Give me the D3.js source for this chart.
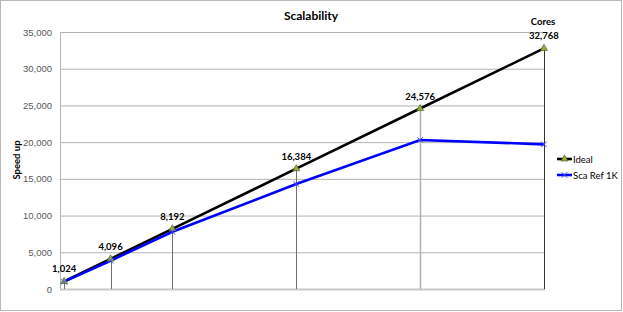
<!DOCTYPE html>
<html><head><meta charset="utf-8">
<script src="https://cdn.jsdelivr.net/npm/d3@7"></script>
<style>
html,body{margin:0;padding:0;background:#fff;}
svg{display:block;font-family:Lato,"Open Sans",sans-serif;}
</style></head>
<body><svg id="c" width="623" height="312"></svg>
<script>
const cores = [1024, 4096, 8192, 16384, 24576, 32768];
const ideal = [1024, 4096, 8192, 16384, 24576, 32768];
const scaRef = [1000, 3850, 7800, 14300, 20300, 19700];
const coreLabels = ["1,024", "4,096", "8,192", "16,384", "24,576", "32,768"];
const yTicks = [0, 5000, 10000, 15000, 20000, 25000, 30000, 35000];
const seriesNames = ["Ideal", "Sca Ref 1K"];

const svg = d3.select("#c");
const W = 623, H = 312;
const L = 60, R = 545, T = 32, B = 289;

svg.append("rect").attr("x",0.5).attr("y",0.5).attr("width",621).attr("height",310)
  .attr("fill","#fff").attr("stroke","#b8b8b8").attr("stroke-width",1);

const x = d3.scaleLinear().domain([754, 32837]).range([L, R]);
const y = d3.scaleLinear().domain([0, 35000]).range([B, T]);

// gridlines
const yAxis = d3.axisLeft(y).tickValues(yTicks).tickFormat(d3.format(",")).tickSize(-(R-L)).tickPadding(8);
const gy = svg.append("g").attr("transform",`translate(${L},0)`).call(yAxis);
gy.select(".domain").remove();
gy.selectAll(".tick line").attr("stroke","#b3b3b3").attr("stroke-width",1);
gy.selectAll(".tick text").attr("fill","#595959").attr("font-size","9.5px");

// y axis line and x axis line
svg.append("line").attr("x1",L+0.5).attr("x2",L+0.5).attr("y1",T).attr("y2",B).attr("stroke","#b3b3b3");
svg.append("line").attr("x1",L).attr("x2",R).attr("y1",B+0.5).attr("y2",B+0.5).attr("stroke","#c8c8c8").attr("stroke-width",2);

// drop lines
const dropColors = ["#707070","#707070","#707070","#707070","#b0b0b0","#333333"];
svg.append("g").selectAll("line").data(cores).join("line")
  .attr("x1",d=>Math.round(x(d))+0.5).attr("x2",d=>Math.round(x(d))+0.5)
  .attr("y1",(d,i)=>y(ideal[i])).attr("y2",B)
  .attr("stroke",(d,i)=>dropColors[i]).attr("stroke-width",(d,i)=>i===4?1.5:1);

// lines
const lineGen = vals => d3.line().x((d,i)=>x(cores[i])).y(d=>y(d))(vals);
svg.append("path").attr("d",lineGen(ideal)).attr("fill","none").attr("stroke","#000").attr("stroke-width",2.6);
svg.append("path").attr("d",lineGen(scaRef)).attr("fill","none").attr("stroke","#0000ff").attr("stroke-width",2.6);

// markers
const tri = d3.symbol().type(d3.symbolTriangle).size(22);
svg.append("g").selectAll("path").data(ideal).join("path")
  .attr("d",tri).attr("transform",(d,i)=>`translate(${x(cores[i])},${y(d)})`)
  .attr("fill","#8fae3a").attr("stroke","#4b5a1e").attr("stroke-width",0.6);
const cross = d3.symbol().type(d3.symbolX).size(22);
svg.append("g").selectAll("path").data(scaRef).join("path")
  .attr("d",cross).attr("transform",(d,i)=>`translate(${x(cores[i])},${y(d)})`)
  .attr("fill","none").attr("stroke","#4a4aff").attr("stroke-width",1);

// data labels
svg.append("g").selectAll("text").data(coreLabels).join("text")
  .attr("x",(d,i)=>x(cores[i])).attr("y",(d,i)=>y(ideal[i])-9)
  .attr("text-anchor","middle").attr("font-size","9.5px").attr("font-weight","bold").attr("fill","#000")
  .text(d=>d);

// titles
svg.append("text").attr("x",311).attr("y",20).attr("text-anchor","middle")
  .attr("font-size","12px").attr("font-weight","bold").text("Scalability");
svg.append("text").attr("x",543).attr("y",25).attr("text-anchor","middle")
  .attr("font-size","9.5px").attr("font-weight","bold").text("Cores");
svg.append("text").attr("transform","translate(20,160) rotate(-90)").attr("text-anchor","middle")
  .attr("font-size","9.5px").attr("font-weight","bold").text("Speed up");

// legend
const leg = svg.append("g");
const legY = [159, 175];
const legColors = ["#000","#0000ff"];
seriesNames.forEach((n,i)=>{
  leg.append("line").attr("x1",557).attr("x2",572).attr("y1",legY[i]).attr("y2",legY[i])
    .attr("stroke",legColors[i]).attr("stroke-width",2.6);
  if(i===0){
    leg.append("path").attr("d",tri).attr("transform",`translate(564.5,${legY[i]})`)
      .attr("fill","#8fae3a").attr("stroke","#4b5a1e").attr("stroke-width",0.6);
  } else {
    leg.append("path").attr("d",cross).attr("transform",`translate(564.5,${legY[i]})`)
      .attr("fill","none").attr("stroke","#4a4aff").attr("stroke-width",1);
  }
  leg.append("text").attr("x",573).attr("y",legY[i]+3.5).attr("font-size","9.5px").attr("fill","#000").text(n);
});
</script></body></html>
